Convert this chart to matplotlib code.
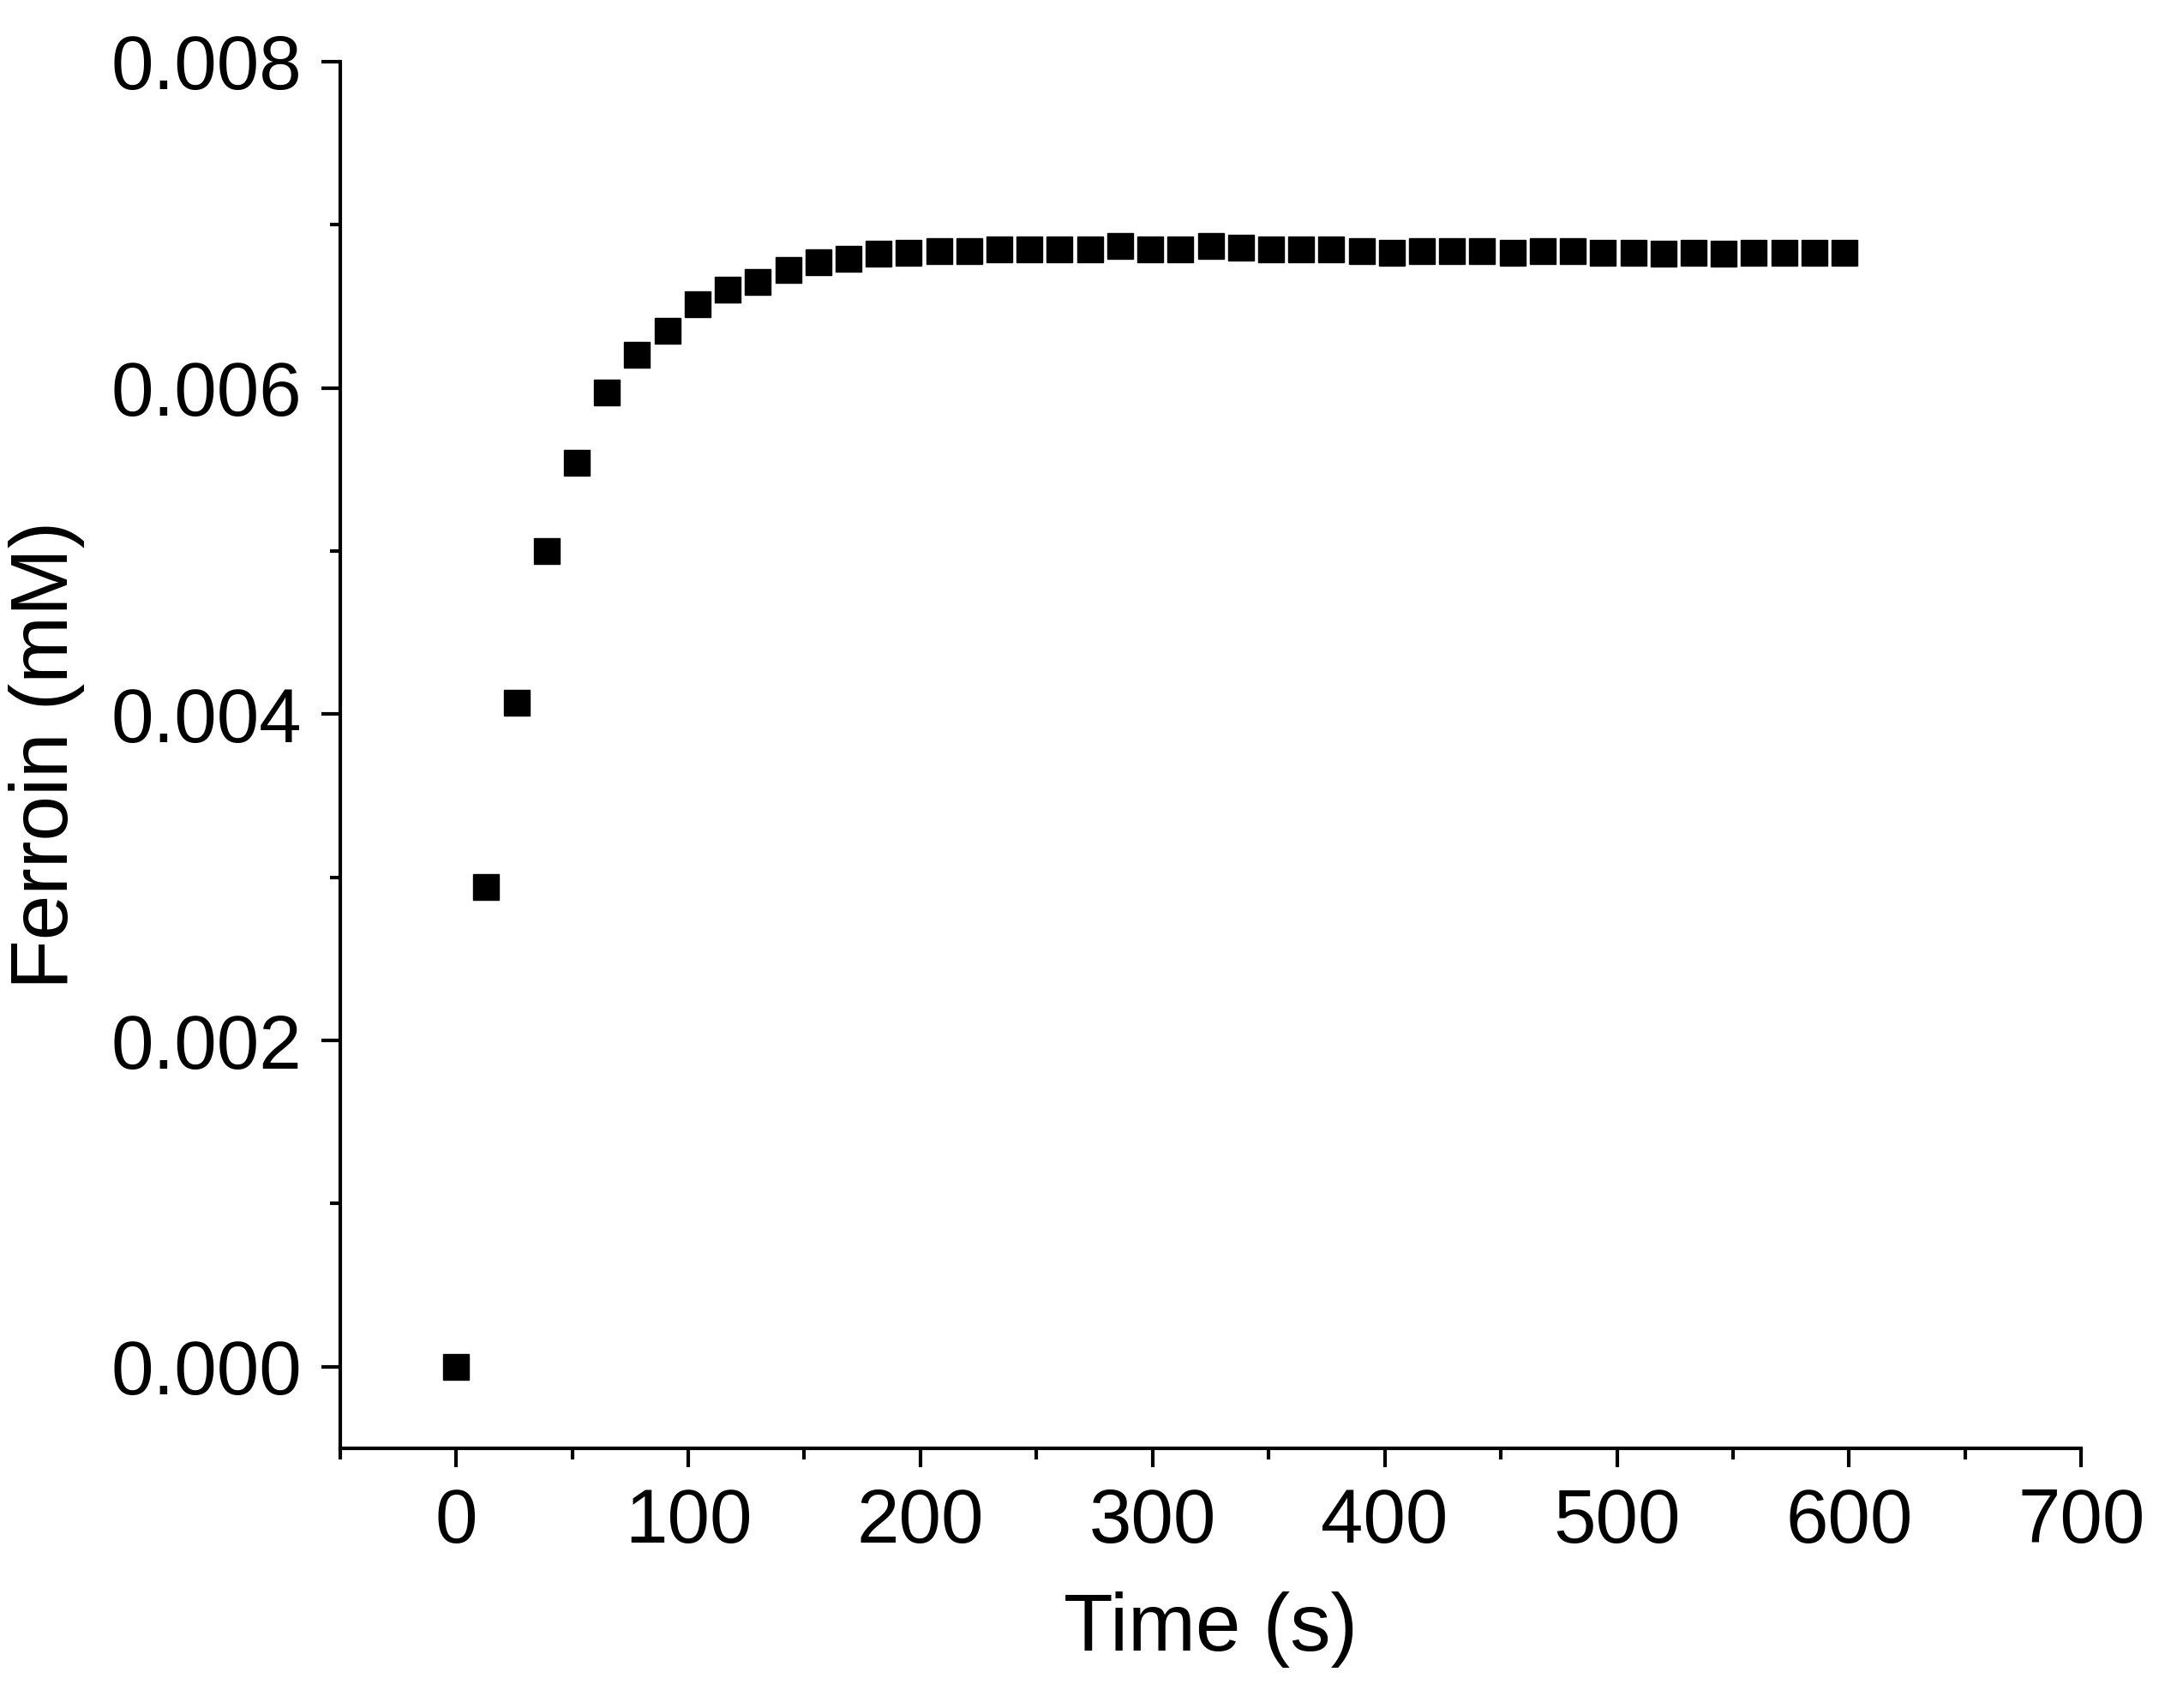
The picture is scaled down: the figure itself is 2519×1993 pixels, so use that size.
import matplotlib
matplotlib.use("Agg")
import matplotlib.pyplot as plt
from matplotlib.ticker import MultipleLocator

plt.rcParams['font.family'] = ['Liberation Sans', 'DejaVu Sans']

time_s = [0, 13, 26, 39, 52, 65, 78, 91, 104, 117, 130, 143, 156, 169, 182, 195,
          208, 221, 234, 247, 260, 273, 286, 299, 312, 325, 338, 351, 364, 377,
          390, 403, 416, 429, 442, 455, 468, 481, 494, 507, 520, 533, 546, 559,
          572, 585, 598]
ferroin_mM = [0.0, 0.00294, 0.00407, 0.00500, 0.00554, 0.00597, 0.00620, 0.00635,
              0.00651, 0.00660, 0.00665, 0.00672, 0.00677, 0.00679, 0.00682, 0.00683,
              0.00684, 0.00684, 0.00685, 0.00685, 0.00685, 0.00685, 0.00687, 0.00685,
              0.00685, 0.00687, 0.00686, 0.00685, 0.00685, 0.00685, 0.00684, 0.00683,
              0.00684, 0.00684, 0.00684, 0.00683, 0.00684, 0.00684, 0.00683, 0.00683,
              0.00682, 0.00683, 0.00682, 0.00683, 0.00683, 0.00683, 0.00683]

fig = plt.figure(figsize=(25.19, 19.93), dpi=100)
ax = fig.add_axes([0.1575, 0.152, 0.8065, 0.812])
ax.plot(time_s, ferroin_mM, 's', color='black', markersize=21)

ax.set_xlim(-50, 700)
ax.set_ylim(-0.0005, 0.008)
ax.xaxis.set_major_locator(MultipleLocator(100))
ax.xaxis.set_minor_locator(MultipleLocator(50))
ax.yaxis.set_major_locator(MultipleLocator(0.002))
ax.yaxis.set_minor_locator(MultipleLocator(0.001))
ax.yaxis.set_major_formatter(matplotlib.ticker.FormatStrFormatter('%.3f'))
for s in ['top', 'right']:
    ax.spines[s].set_visible(False)
for s in ['left', 'bottom']:
    ax.spines[s].set_linewidth(3)
ax.tick_params(which='major', length=16, width=3, labelsize=64, pad=16)
ax.tick_params(which='minor', length=9, width=3)
ax.set_xlabel('Time (s)', fontsize=68, labelpad=28)
ax.set_ylabel('Ferroin (mM)', fontsize=68, labelpad=22)

fig.savefig("out.png")
